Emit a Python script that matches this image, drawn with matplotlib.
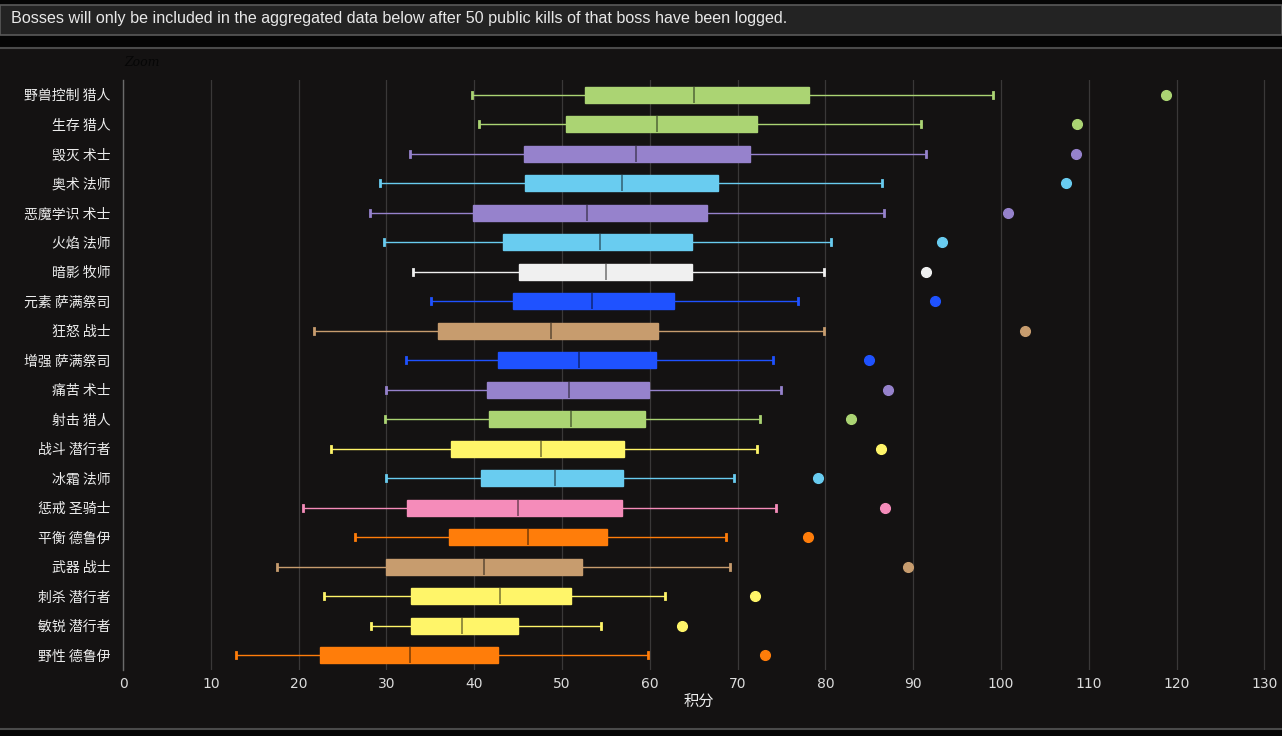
import matplotlib
matplotlib.use("Agg")
import matplotlib.pyplot as plt
from matplotlib import font_manager
from matplotlib.patches import Rectangle
from matplotlib.lines import Line2D
import matplotlib.colors as mcolors

specs = ["野兽控制 猎人", "生存 猎人", "毁灭 术士", "奥术 法师", "恶魔学识 术士",
         "火焰 法师", "暗影 牧师", "元素 萨满祭司", "狂怒 战士", "增强 萨满祭司",
         "痛苦 术士", "射击 猎人", "战斗 潜行者", "冰霜 法师", "惩戒 圣骑士",
         "平衡 德鲁伊", "武器 战士", "刺杀 潜行者", "敏锐 潜行者", "野性 德鲁伊"]
classes = ["猎人", "猎人", "术士", "法师", "术士", "法师", "牧师", "萨满祭司", "战士", "萨满祭司",
           "术士", "猎人", "潜行者", "法师", "圣骑士", "德鲁伊", "战士", "潜行者", "潜行者", "德鲁伊"]
whisker_low = [39.7, 40.5, 32.7, 29.3, 28.1, 29.7, 33.0, 35.1, 21.8, 32.2,
               30.0, 29.8, 23.7, 30.0, 20.5, 26.4, 17.5, 22.9, 28.2, 12.9]
q1 = [52.6, 50.5, 45.7, 45.8, 39.9, 43.3, 45.1, 44.4, 35.9, 42.7,
      41.5, 41.7, 37.4, 40.8, 32.3, 37.1, 30.0, 32.8, 32.8, 22.4]
median = [65.0, 60.8, 58.4, 56.8, 52.8, 54.3, 55.0, 53.4, 48.7, 51.9,
          50.8, 51.0, 47.6, 49.2, 45.0, 46.1, 41.1, 42.9, 38.6, 32.7]
q3 = [78.1, 72.2, 71.4, 67.8, 66.5, 64.8, 64.8, 62.8, 60.9, 60.7,
      59.9, 59.5, 57.1, 56.9, 56.8, 55.1, 52.3, 51.0, 45.0, 42.7]
whisker_high = [99.1, 90.9, 91.5, 86.4, 86.7, 80.6, 79.8, 76.9, 79.8, 74.0,
                74.9, 72.6, 72.2, 69.6, 74.4, 68.7, 69.1, 61.7, 54.4, 59.8]
outlier = [118.8, 108.7, 108.5, 107.4, 100.8, 93.3, 91.5, 92.5, 102.7, 85.0,
           87.1, 82.9, 86.3, 79.2, 86.8, 78.0, 89.4, 72.0, 63.7, 73.1]
x_ticks = [0, 10, 20, 30, 40, 50, 60, 70, 80, 90, 100, 110, 120, 130]

class_colors = {"猎人": "#abd473", "术士": "#9682cc", "法师": "#69ccf0", "牧师": "#f0f0f0",
                "萨满祭司": "#1f52ff", "战士": "#c79c6e", "潜行者": "#fff569",
                "圣骑士": "#f58cba", "德鲁伊": "#ff7d0a"}

cjk = ["Noto Sans CJK SC", "DejaVu Sans"]
plt.rcParams["font.family"] = cjk

BG = "#141212"
fig = plt.figure(figsize=(12.82, 7.36), dpi=100, facecolor=BG)
W, H = 1282, 736

def fx(px):
    return px / W

def fy(py):
    return 1 - py / H

# header band
fig.patches.append(Rectangle((0, fy(48)), 1, fy(0) - fy(48), transform=fig.transFigure,
                             facecolor="#050505", edgecolor="none", zorder=0))
fig.patches.append(Rectangle((0, fy(35)), 1, fy(5) - fy(35), transform=fig.transFigure,
                             facecolor="#232323", edgecolor="#5a5a5a", linewidth=1.2, zorder=1))
fig.lines.append(Line2D([0, 1], [fy(48), fy(48)], transform=fig.transFigure, color="#4a4a4a", lw=1.5))
fig.patches.append(Rectangle((0, 0), 1, fy(729), transform=fig.transFigure,
                             facecolor="#050505", edgecolor="none", zorder=0))
fig.lines.append(Line2D([0, 1], [fy(729), fy(729)], transform=fig.transFigure, color="#4a4a4a", lw=1.5))

narrow = None
for name in ["Liberation Sans Narrow", "DejaVu Sans Condensed"]:
    try:
        font_manager.findfont(name, fallback_to_default=False)
        narrow = name
        break
    except Exception:
        pass
fig.text(fx(11), fy(19), "Bosses will only be included in the aggregated data below after 50 public kills of that boss have been logged.",
         color="#e8e8e8", fontsize=11.6, family=narrow or "Liberation Sans", va="center", ha="left")
fig.text(fx(124), fy(63), "Zoom", color="#060606", fontsize=9, style="italic", family="DejaVu Serif",
         va="center", ha="left")

ax = fig.add_axes([fx(123), fy(670), fx(1275) - fx(123), fy(80) - fy(670)])
ax.set_facecolor(BG)

positions = list(range(len(specs)))
for i in positions:
    c = class_colors[classes[i]]
    dark = tuple(v * 0.55 for v in mcolors.to_rgb(c))
    stats = [{"med": median[i], "q1": q1[i], "q3": q3[i], "whislo": whisker_low[i],
              "whishi": whisker_high[i], "fliers": [outlier[i]]}]
    ax.bxp(stats, positions=[i], widths=0.55, vert=False, patch_artist=True,
           capwidths=0.2,
           boxprops=dict(facecolor=c, edgecolor=c, linewidth=1),
           medianprops=dict(color=dark, linewidth=1.3),
           whiskerprops=dict(color=c, linewidth=1),
           capprops=dict(color=c, linewidth=2),
           flierprops=dict(marker="o", markersize=7, markerfacecolor=c, markeredgecolor=c))

ax.set_ylim(len(specs) - 0.5, -0.5)
ax.set_yticks(positions)
ax.set_yticklabels(specs, color="#ececec", fontsize=10)
ax.set_xlim(0, 131.2)
ax.set_xticks(x_ticks)
ax.set_xticklabels([str(t) for t in x_ticks], color="#dcdcdc", fontsize=10, family="DejaVu Sans")
ax.tick_params(axis="x", length=0, pad=5)
ax.tick_params(axis="y", length=0, pad=9)
ax.grid(axis="x", color="#3a3838", linewidth=0.9)
ax.set_axisbelow(True)
for s in ["top", "right", "bottom"]:
    ax.spines[s].set_visible(False)
ax.spines["left"].set_color("#6a6a6a")
ax.spines["left"].set_linewidth(1)
ax.set_xlabel("积分", color="#ececec", fontsize=11, labelpad=2)

fig.savefig("out.png", dpi=100, facecolor=fig.get_facecolor())
